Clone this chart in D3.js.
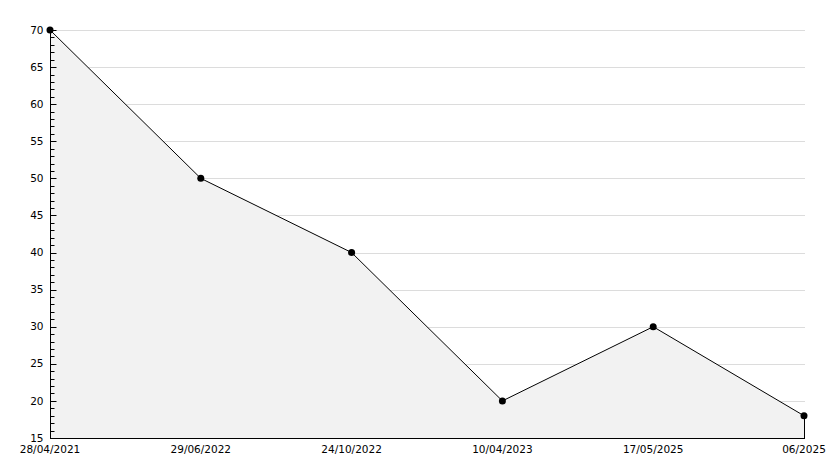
<!DOCTYPE html>
<html><head><meta charset="utf-8">
<script src="https://cdn.jsdelivr.net/npm/d3@7"></script>
<style>body{margin:0;background:#fff}svg{display:block}</style>
</head><body><svg id="c" width="834" height="468"></svg>
<script>
const categories = ["28/04/2021","29/06/2022","24/10/2022","10/04/2023","17/05/2025","06/2025"];
const values = [70, 50, 40, 20, 30, 18];
const yTicks = [15,20,25,30,35,40,45,50,55,60,65,70];

const svg = d3.select("#c");
const mLeft = 50, mRight = 804, mTop = 30, mBottom = 438;
const x = d3.scalePoint().domain(categories).range([mLeft, mRight]);
const y = d3.scaleLinear().domain([15, 70]).range([mBottom, mTop]);
const font = "DejaVu Sans";

// gridlines
svg.append("g").selectAll("line").data(yTicks.filter(d => d > 15)).join("line")
  .attr("x1", mLeft).attr("x2", mRight + 1)
  .attr("y1", d => Math.round(y(d)) + 0.5).attr("y2", d => Math.round(y(d)) + 0.5)
  .attr("stroke", "#dcdcdc").attr("stroke-width", 1);

// area
const area = d3.area().x((d, i) => x(categories[i])).y0(mBottom).y1(d => y(d));
svg.append("path").datum(values).attr("d", area).attr("fill", "#f2f2f2");

// right edge of area
svg.append("line").attr("x1", mRight + 0.5).attr("x2", mRight + 0.5)
  .attr("y1", y(values[values.length - 1])).attr("y2", mBottom)
  .attr("stroke", "#000");

// line
const line = d3.line().x((d, i) => x(categories[i])).y(d => y(d));
svg.append("path").datum(values).attr("d", line).attr("fill", "none")
  .attr("stroke", "#000").attr("stroke-width", 1);

// y axis
const ya = svg.append("g").attr("transform", `translate(${mLeft + 0.5},0)`);
ya.append("line").attr("x1", 0).attr("x2", 0).attr("y1", mTop).attr("y2", mBottom).attr("stroke", "#000");
ya.selectAll("line.tk").data(d3.range(15, 71, 1)).join("line").attr("class", "tk")
  .attr("x1", 0).attr("x2", d => d % 5 === 0 ? 6 : 4)
  .attr("y1", d => Math.round(y(d)) + 0.5).attr("y2", d => Math.round(y(d)) + 0.5)
  .attr("stroke", "#000");
ya.selectAll("text").data(yTicks).join("text")
  .attr("x", -7).attr("y", d => y(d)).attr("dy", "0.35em")
  .attr("text-anchor", "end").attr("font-family", font).attr("font-size", 10.5)
  .text(d => d);

// x axis
svg.append("line").attr("x1", mLeft).attr("x2", mRight + 1)
  .attr("y1", mBottom + 0.5).attr("y2", mBottom + 0.5).attr("stroke", "#000");
svg.append("g").selectAll("text").data(categories).join("text")
  .attr("x", d => x(d)).attr("y", mBottom + 15)
  .attr("text-anchor", "middle").attr("font-family", font).attr("font-size", 10.5)
  .text(d => d);

// markers
svg.append("g").selectAll("circle").data(values).join("circle")
  .attr("cx", (d, i) => x(categories[i])).attr("cy", d => y(d)).attr("r", 3.5)
  .attr("fill", "#000");
</script></body></html>
